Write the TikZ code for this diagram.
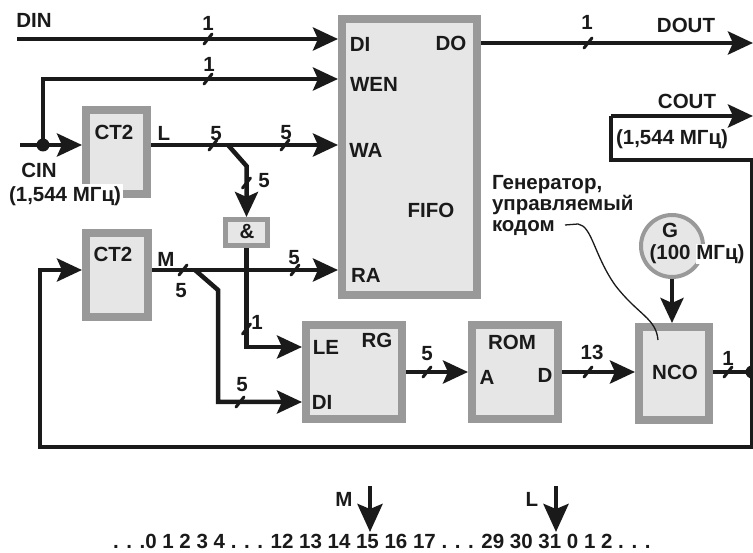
\documentclass[tikz,border=0pt]{standalone}
\usepackage{fontspec}
\setmainfont{Liberation Sans}
\usetikzlibrary{arrows.meta}
\definecolor{boxfill}{HTML}{E6E6E6}
\definecolor{boxline}{HTML}{999999}
\definecolor{ink}{HTML}{1A1A1A}
\begin{document}
\begin{tikzpicture}[x=1pt,y=-1pt,
  every node/.style={inner sep=0pt, outer sep=0pt, text=ink,
    font=\fontsize{20.5}{21}\selectfont\bfseries},
  block/.style={rectangle, draw=boxline, fill=boxfill, line width=8pt, outer sep=4pt},
  sig/.style={draw=ink, line width=4.5pt, line join=miter,
    -{Stealth[length=25pt,width=23pt,inset=5pt]}},
  wire/.style={draw=ink, line width=4.5pt, line join=miter},
  thinwire/.style={draw=ink, line width=3.5pt, line join=miter},
  bus/.pic={\draw[draw=ink, line width=3pt, line cap=round] (-4,5) -- (4,-5);}
]
\useasboundingbox (0,0) rectangle (753,553);

% blocks
\node[block, minimum width=135pt, minimum height=276pt] (fifo) at (409.5,157) {};
\node[block, minimum width=61pt, minimum height=84pt] (cta) at (116.5,152) {};
\node[block, minimum width=62pt, minimum height=84pt] (ctb) at (117,275) {};
\node[block, line width=5pt, outer sep=2.5pt, minimum width=42pt, minimum height=26pt] (and) at (246.5,232.5) {};
\node[block, minimum width=96pt, minimum height=94pt] (rg) at (354,372) {};
\node[block, minimum width=86pt, minimum height=94pt] (rom) at (515,372) {};
\node[block, minimum width=70pt, minimum height=93pt] (nco) at (674,373.5) {};
\node[circle, draw=boxline, fill=boxfill, line width=4pt, outer sep=2pt, minimum size=62pt] (gen) at (672,246) {};

% block labels
\node (fdi) at (360,44) {DI};
\node (fdo) at (451,43) {DO};
\node (fwen) at (374,84) {WEN};
\node (fwa) at (366,150) {WA};
\node (fra) at (366,275) {RA};
\node (ffifo) at (431,210) {FIFO};
\node (ctalab) at (114,132) {CT2};
\node (ctblab) at (113,254) {CT2};
\node (andlab) at (247,232) {\&};
\node (rgle) at (326,347) {LE};
\node (rgrg) at (377,340) {RG};
\node (rgdi) at (322,402) {DI};
\node (romlab) at (512,342) {ROM};
\node (roma) at (487,377) {A};
\node (romd) at (545,375) {D};
\node (ncolab) at (675,372) {NCO};
\node (glab) at (670,230) {G};
\node (gfreq) at (697,254) {(100 {\fboxsep=0pt\colorbox{white}{МГц)}}};

% free ends
\coordinate (din) at (17,39);
\coordinate (cin) at (20,145);
\coordinate (cinsplit) at (43,145);
\coordinate (lsplit) at (228,145);
\coordinate (msplit) at (195,270);
\coordinate (dout) at (753,43);
\coordinate (ncoout) at (752,372);
\coordinate (cout) at (753,116);

% connectors
\draw[sig] (din) -- (din -| fifo.west);
\draw[sig] (cinsplit) -- (43,79) -- (fifo.west |- 43,79);
\draw[sig] (cin) -- (cin -| cta.west);
\fill[ink] (cinsplit) circle[radius=6.5];
\draw[sig] (cta.east |- 0,145) -- (fifo.west |- 0,145);
\draw[sig] (lsplit) -- (and.north |- 0,166) -- (and.north);
\draw[sig] (and.south) -- (and.south |- 0,347) -- (rg.west |- 0,347);
\draw[sig] (ctb.east |- 0,270) -- (fifo.west |- 0,270);
\draw[sig] (msplit) -- (218,290) -- (218,402) -- (rg.west |- 0,402);
\draw[sig] (rg.east) -- (rom.west);
\draw[sig] (rom.east) -- (nco.west |- rom.east);
\draw[wire] (nco.east |- ncoout) -- (ncoout);
\fill[ink] (ncoout) circle[radius=6.5];
\draw[sig] (ncoout) -- (752,447) -- (40,447) -- (40,270) -- (ctb.west |- 0,270);
\draw[thinwire] (751.5,447) -- (751.5,160) -- (611,160) -- (611,116);
\draw[sig] (611,116) -- (cout);
\draw[sig] (fifo.east |- dout) -- (dout);
\draw[sig] (gen.south) -- (gen.south |- nco.north);

% bus marks
\pic at (208,39) {bus};
\pic at (208,79) {bus};
\pic at (213,145) {bus};
\pic at (285,145) {bus};
\pic at (246.5,183) {bus};
\pic at (246.5,329) {bus};
\pic at (183,270) {bus};
\pic at (295,270) {bus};
\pic at (240,402) {bus};
\pic at (427,372) {bus};
\pic at (588,372) {bus};
\pic at (728,372) {bus};
\pic at (588,43) {bus};

% signal labels
\node (ldin) at (34,20) {DIN};
\node (ldi1) at (208,23) {1};
\node (lwen1) at (209,64) {1};
\node (lcin) at (39,170) {CIN};
\node[fill=white, inner sep=2pt] (lcinf) at (65,196) {(1,544 МГц)};
\node (lL) at (164,133) {L};
\node (lwa5a) at (216,134) {5};
\node (lwa5b) at (286,133) {5};
\node (lbr5) at (264,181) {5};
\node (lM) at (166,259) {M};
\node (lm5) at (181,291) {5};
\node (lra5) at (294,258) {5};
\node (lle1) at (257,322) {1};
\node (lrgdi5) at (242,385) {5};
\node (lrom5) at (427,354) {5};
\node (lnco13) at (592,352) {13};
\node (lout1) at (728,358) {1};
\node (ldout1) at (587,22) {1};
\node (ldout) at (686,25) {DOUT};
\node (lcout) at (687,101) {COUT};
\node (lcoutf) at (672,139) {(1,544 МГц)};
\node[align=left, anchor=north west] (annot) at (492,175) {Генератор,\\управляемый\\кодом};
\draw[ink, line width=1.3pt] (565,225) -- (578,224) .. controls (592,226) and (594,255) .. (615,285) .. controls (638,315) and (656,318) .. (658,340);

% bottom sequence
\node (lbm) at (344,499) {M};
\node (lbl) at (532,499) {L};
\coordinate (mtop) at (370,486);
\coordinate (mtip) at (370,532);
\coordinate (ltop) at (556,486);
\coordinate (ltip) at (556,532);
\draw[sig, -{Stealth[length=28pt,width=25pt,inset=5pt]}] (mtop) -- (mtip);
\draw[sig, -{Stealth[length=28pt,width=25pt,inset=5pt]}] (ltop) -- (ltip);
\node[anchor=west] (seq) at (113,541) {. . .0 1 2 3 4 . . . 12 13 14 15 16 17 . . . 29 30 31 0 1 2 . . .};
\end{tikzpicture}
\end{document}
